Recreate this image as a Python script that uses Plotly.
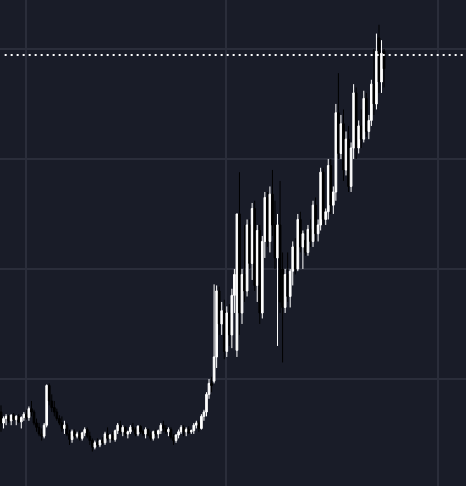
import plotly.graph_objects as go

# OHLC values, one candle per entry
opens = [70, 60, 64, 66, 62, 67, 63, 66, 61, 65, 68, 65, 73, 70, 60, 56, 50, 48, 58, 94,
         80, 74, 70, 64, 60, 55, 58, 50, 45, 52, 48, 50, 46, 51, 54, 48, 44, 38, 42, 40,
         44, 42, 50, 46, 49, 45, 53, 58, 52, 56, 50, 52, 56, 54, 50, 57, 52, 50, 54, 49,
         46, 52, 50, 53, 58, 55, 52, 54, 47, 44, 49, 52, 56, 52, 54, 52, 53, 58, 60, 55, 66, 70,
         86, 96, 98, 120, 180, 150, 162, 125, 160, 140, 176, 126, 250, 160, 195, 180, 240, 205, 255, 185,
         235, 160, 225, 265, 225, 268, 240, 210, 240, 200, 165, 195, 175, 198, 220, 200, 245, 220,
         226, 215, 236, 225, 258, 232, 240, 288, 245, 252, 294, 258, 270, 342, 305, 332, 290, 318, 275, 310,
         360, 310, 330, 318, 355, 325, 335, 368, 350, 410, 370, 398]
highs = [76, 66, 68, 67, 68, 69, 67, 68, 66, 70, 72, 75, 80, 72, 64, 60, 55, 60, 95, 96,
         86, 80, 73, 67, 66, 62, 60, 54, 54, 54, 52, 53, 52, 56, 56, 52, 46, 44, 46, 45,
         47, 52, 56, 50, 52, 54, 60, 62, 58, 57, 53, 58, 60, 56, 58, 58, 54, 56, 55, 52,
         53, 54, 54, 60, 62, 58, 56, 56, 50, 50, 54, 58, 58, 56, 57, 54, 60, 62, 62, 68, 72, 88,
         100, 102, 186, 185, 184, 170, 172, 166, 168, 182, 200, 250, 288, 200, 240, 245, 245, 260, 262, 240,
         240, 230, 270, 270, 275, 290, 262, 250, 280, 215, 200, 215, 200, 225, 228, 250, 252, 235,
         235, 240, 245, 262, 265, 245, 292, 292, 255, 300, 300, 275, 350, 378, 340, 345, 325, 330, 315, 368,
         365, 335, 345, 362, 360, 340, 372, 400, 414, 422, 408, 400]
lows = [52, 55, 58, 60, 58, 62, 58, 60, 55, 62, 63, 62, 66, 58, 52, 48, 44, 46, 56, 76,
        70, 66, 62, 58, 52, 50, 48, 40, 42, 46, 46, 44, 44, 48, 46, 40, 34, 36, 38, 38,
        40, 40, 44, 42, 44, 43, 50, 50, 48, 48, 46, 50, 52, 48, 48, 50, 48, 46, 48, 44,
        44, 48, 46, 50, 52, 50, 48, 45, 40, 42, 46, 50, 48, 48, 50, 50, 50, 55, 52, 54, 62, 66,
        82, 88, 96, 110, 140, 140, 118, 120, 130, 128, 160, 120, 140, 150, 170, 175, 200, 190, 180, 170,
        150, 155, 210, 220, 215, 230, 200, 130, 160, 115, 160, 170, 165, 185, 195, 198, 215, 200,
        212, 212, 220, 220, 225, 225, 235, 240, 240, 245, 250, 250, 262, 300, 300, 280, 285, 270, 270, 300,
        300, 305, 310, 315, 320, 318, 330, 340, 345, 360, 360, 365]
closes = [60, 64, 66, 62, 67, 63, 66, 61, 65, 68, 65, 73, 70, 60, 56, 50, 48, 58, 94, 80,
          74, 70, 64, 60, 55, 58, 50, 45, 52, 48, 50, 46, 51, 54, 48, 44, 38, 42, 40, 44,
          42, 50, 46, 49, 45, 53, 58, 52, 56, 50, 52, 56, 54, 50, 57, 52, 50, 54, 49, 46,
          52, 50, 53, 58, 55, 52, 54, 47, 44, 49, 52, 56, 52, 54, 51, 53, 58, 60, 55, 66, 70, 86,
          96, 94, 120, 180, 150, 162, 125, 160, 140, 176, 195, 250, 160, 195, 180, 240, 205, 255, 185, 235,
          160, 225, 265, 225, 268, 240, 210, 240, 170, 165, 195, 175, 198, 220, 200, 245, 220, 232,
          215, 236, 225, 258, 232, 240, 288, 245, 252, 294, 258, 270, 342, 305, 332, 290, 318, 275, 310, 360,
          310, 330, 318, 355, 325, 335, 368, 350, 398, 370, 396, 382]

target_level = 394.5
y_grid = [100, 200, 300, 400]
x_grid = [9.85, 88.7, 172.3]

idx = list(range(len(closes)))

fig = go.Figure(go.Candlestick(
    x=idx, open=opens, high=highs, low=lows, close=closes,
    increasing=dict(line=dict(color="#ffffff", width=1), fillcolor="#ffffff"),
    decreasing=dict(line=dict(color="#000000", width=1), fillcolor="#000000"),
    whiskerwidth=0,
))

fig.add_shape(type="line", xref="paper", x0=0.01, x1=1, yref="y",
              y0=target_level, y1=target_level,
              line=dict(color="#ffffff", width=2, dash="2px,4px"))

fig.update_layout(
    width=466, height=486,
    margin=dict(l=0, r=0, t=0, b=0),
    paper_bgcolor="#191c28", plot_bgcolor="#191c28",
    showlegend=False,
    boxgap=0.05,
    xaxis=dict(range=[-0.4, 183.3], rangeslider=dict(visible=False),
               tickvals=x_grid, showticklabels=False, showgrid=True,
               gridcolor="#2a2d3a", gridwidth=2, zeroline=False),
    yaxis=dict(range=[2.7, 444.5], tickvals=y_grid, showticklabels=False,
               showgrid=True, gridcolor="#2a2d3a", gridwidth=2, zeroline=False),
)

fig.write_html("out.html", config={"displayModeBar": False},
               post_script="document.body.style.margin='0';")
